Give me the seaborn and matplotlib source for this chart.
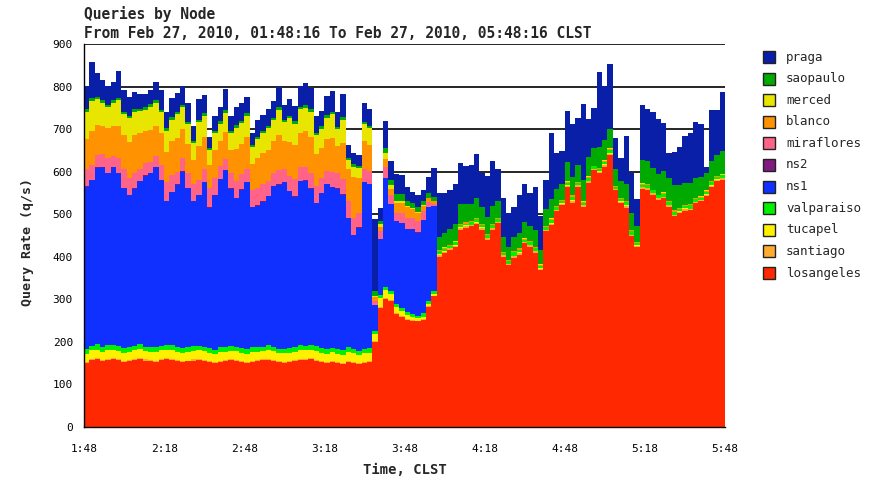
import pandas as pd
import matplotlib
matplotlib.use("Agg")
import matplotlib.pyplot as plt
import seaborn as sns
from matplotlib.patches import Rectangle

# stacking order: first name ends up on top of the stack
nodes = ["praga", "saopaulo", "merced", "blanco", "miraflores", "ns2",
         "ns1", "valparaiso", "tucapel", "santiago", "losangeles"]
colors = ["#0A1FA8", "#00AA00", "#E8E600", "#FF9200", "#FF6488", "#7F1A80",
          "#1030FF", "#00F000", "#FFF000", "#FFAA30", "#FF2800"]
tick_labels = ["1:48", "2:18", "2:48", "3:18", "3:48", "4:18", "4:48", "5:18", "5:48"]

# one sample every 2 minutes from 01:48 (minute 1 = centre of first bin)
minutes = list(range(1, 240, 2))

losangeles = [
    150, 158, 160, 155, 158, 160, 157, 152, 155, 158,
    160, 156, 155, 153, 158, 160, 157, 155, 152, 154,
    156, 158, 155, 153, 150, 152, 155, 157, 155, 153,
    150, 152, 155, 157, 158, 155, 152, 150, 153, 155,
    157, 158, 160, 156, 152, 150, 153, 150, 148, 152,
    150, 148, 150, 152, 200, 280, 300, 295, 265, 258,
    252, 249, 248, 252, 283, 307, 400, 409, 416, 424,
    464, 468, 472, 478, 464, 440, 464, 480, 400, 380,
    398, 405, 432, 424, 409, 369, 460, 475, 507, 522,
    565, 526, 565, 518, 573, 604, 596, 612, 639, 557,
    526, 515, 448, 424, 560, 557, 546, 534, 538, 518,
    495, 503, 507, 510, 526, 530, 542, 565, 577, 581]
santiago = [
    2, 2, 3, 2, 2, 2, 3, 2, 2, 2,
    2, 3, 2, 2, 2, 2, 3, 2, 2, 2,
    3, 2, 2, 2, 2, 3, 2, 2, 2, 2,
    2, 3, 2, 2, 2, 3, 2, 2, 2, 2,
    2, 2, 3, 2, 2, 2, 2, 3, 2, 2,
    3, 2, 2, 2, 3, 3, 3, 3, 3, 3,
    2, 2, 2, 2, 2, 2, 5, 3, 4, 2,
    3, 5, 3, 2, 4, 3, 3, 2, 4, 3,
    3, 5, 2, 3, 4, 3, 2, 3, 4, 3,
    2, 5, 3, 3, 4, 2, 3, 4, 3, 2,
    3, 5, 3, 2, 3, 4, 3, 3, 2, 4,
    3, 3, 5, 2, 3, 3, 4, 2, 3, 3]
tucapel = [
    20, 21, 19, 20, 22, 20, 19, 21, 20, 20,
    21, 19, 20, 22, 20, 19, 21, 20, 20, 21,
    19, 20, 22, 20, 19, 21, 20, 20, 21, 19,
    20, 22, 20, 19, 21, 20, 20, 21, 19, 20,
    22, 20, 19, 21, 20, 20, 21, 19, 20, 22,
    20, 19, 21, 20, 15, 20, 18, 15, 15, 12,
    10, 8, 6, 5, 3, 3, 1, 1, 0, 1,
    2, 1, 0, 1, 1, 2, 1, 0, 1, 1,
    2, 1, 0, 1, 1, 1, 2, 1, 0, 1,
    1, 2, 1, 0, 1, 1, 2, 1, 1, 0,
    1, 2, 1, 1, 0, 1, 1, 2, 1, 0,
    1, 1, 2, 1, 0, 1, 1, 1, 2, 1]
valparaiso = [
    11, 10, 12, 11, 10, 11, 12, 11, 10, 11,
    12, 11, 11, 10, 11, 12, 11, 10, 11, 11,
    12, 11, 10, 11, 11, 12, 10, 11, 11, 12,
    11, 10, 11, 11, 12, 11, 10, 11, 11, 12,
    11, 10, 11, 12, 11, 11, 10, 11, 12, 11,
    11, 10, 11, 12, 8, 8, 8, 6, 6, 6,
    6, 6, 6, 8, 8, 8, 8, 6, 5, 7,
    6, 4, 6, 8, 5, 6, 7, 6, 5, 6,
    8, 5, 6, 7, 6, 5, 6, 7, 5, 6,
    6, 8, 5, 6, 7, 6, 5, 6, 7, 5,
    6, 6, 8, 5, 6, 7, 6, 5, 6, 6,
    7, 5, 6, 8, 6, 5, 6, 7, 6, 6]
ns1 = [
    382, 389, 415, 423, 405, 418, 406, 375, 357, 369,
    382, 401, 408, 425, 389, 337, 360, 382, 415, 373,
    341, 354, 387, 329, 362, 395, 416, 370, 349, 372,
    392, 330, 332, 340, 349, 377, 385, 392, 369, 352,
    385, 389, 367, 336, 365, 387, 379, 377, 364, 305,
    267, 289, 392, 385, 60, 130, 255, 205, 195, 200,
    195, 200, 195, 220, 220, 200, 0, 0, 0, 0] + [0] * 50
ns2 = [
    1, 0, 1, 1, 0, 1, 1, 0, 1, 1,
    0, 1, 1, 0, 1, 1, 0, 1, 1, 0,
    1, 1, 0, 1, 1, 0, 1, 1, 0, 1,
    1, 0, 1, 1, 0, 1, 1, 0, 1, 1,
    0, 1, 1, 0, 1, 1, 0, 1, 1, 0,
    1, 1, 0, 1, 1, 0, 1, 1, 0, 1,
    1, 0, 1, 0, 1, 0, 0, 0, 0, 0] + [0] * 50
miraflores = [
    40, 35, 30, 30, 35, 25, 35, 45, 40, 35,
    30, 30, 25, 25, 35, 45, 40, 30, 30, 35,
    40, 35, 30, 45, 40, 30, 25, 35, 40, 35,
    30, 40, 40, 40, 35, 30, 35, 30, 35, 40,
    35, 30, 35, 40, 35, 30, 35, 35, 35, 40,
    40, 35, 30, 30, 10, 20, 25, 20, 19, 22,
    25, 25, 25, 20, 12, 5, 0, 0, 0, 0] + [0] * 50
blanco = [
    70, 80, 70, 65, 70, 70, 75, 80, 85, 90,
    85, 75, 75, 70, 75, 70, 80, 80, 70, 70,
    55, 80, 75, 55, 65, 60, 65, 55, 75, 70,
    75, 60, 70, 75, 75, 75, 80, 65, 80, 80,
    80, 85, 85, 75, 70, 75, 80, 65, 85, 75,
    95, 80, 65, 60, 8, 10, 20, 15, 24, 25,
    25, 22, 20, 12, 8, 5, 3, 2, 3, 1,
    2, 4, 2, 1, 3, 2, 2, 3, 1, 2,
    2, 4, 2, 1, 2, 3, 2, 2, 3, 1,
    2, 4, 2, 2, 3, 1, 2, 2, 4, 2,
    1, 3, 2, 2, 3, 2, 1, 2, 3, 2,
    4, 2, 1, 2, 3, 2, 2, 3, 2, 2]
merced = [
    65, 70, 60, 55, 50, 55, 60, 50, 55, 55,
    50, 50, 55, 55, 50, 50, 50, 55, 50, 45,
    40, 55, 50, 35, 40, 40, 45, 40, 50, 50,
    50, 40, 45, 45, 50, 50, 60, 45, 55, 50,
    55, 55, 60, 45, 45, 50, 55, 40, 55, 20,
    25, 25, 40, 40, 4, 5, 15, 8, 5, 5,
    3, 3, 3, 2, 2, 2, 0, 1, 0, 1,
    1, 0, 1, 2, 1, 0, 1, 1, 0, 1,
    1, 0, 1, 1, 0, 1, 1, 2, 1, 0,
    1, 1, 0, 1, 1, 0, 1, 2, 1, 1,
    0, 1, 1, 0, 1, 1, 1, 0, 2, 1,
    1, 0, 1, 1, 0, 1, 1, 1, 0, 1]
saopaulo = [
    6, 8, 6, 6, 5, 6, 6, 5, 6, 6,
    5, 6, 6, 6, 5, 6, 6, 6, 5, 6,
    5, 6, 6, 5, 6, 6, 6, 5, 6, 6,
    6, 5, 6, 6, 6, 5, 6, 6, 6, 6,
    6, 6, 6, 5, 6, 6, 6, 5, 6, 5,
    5, 5, 6, 6, 10, 8, 10, 12, 15, 15,
    12, 12, 12, 10, 10, 8, 30, 35, 38, 40,
    45, 42, 40, 45, 38, 40, 42, 38, 35, 30,
    32, 35, 38, 35, 40, 35, 40, 45, 40, 38,
    45, 42, 40, 50, 45, 42, 50, 48, 45, 40,
    42, 38, 40, 38, 55, 52, 50, 48, 50, 55,
    58, 55, 52, 50, 48, 45, 40, 45, 50, 55]
praga = [
    54, 85, 56, 48, 44, 43, 62, 50, 44, 41,
    35, 31, 33, 43, 45, 39, 44, 44, 45, 44,
    35, 49, 44, 25, 34, 34, 50, 35, 42, 41,
    39, 30, 39, 37, 39, 40, 49, 34, 39, 37,
    49, 52, 49, 39, 35, 45, 49, 35, 54, 30,
    28, 25, 44, 39, 170, 30, 65, 45, 48, 45,
    34, 25, 28, 25, 39, 68, 103, 93, 90, 96,
    98, 89, 91, 104, 81, 97, 105, 77, 92, 80,
    71, 89, 90, 78, 103, 78, 68, 157, 83, 78,
    121, 124, 111, 179, 90, 94, 175, 127, 152, 73,
    54, 114, 93, 63, 129, 123, 132, 130, 112, 57,
    77, 88, 110, 117, 130, 125, 15, 122, 105, 139]

df = pd.DataFrame({"minute": minutes, "praga": praga, "saopaulo": saopaulo,
                   "merced": merced, "blanco": blanco, "miraflores": miraflores,
                   "ns2": ns2, "ns1": ns1, "valparaiso": valparaiso,
                   "tucapel": tucapel, "santiago": santiago, "losangeles": losangeles})
long_df = df.melt(id_vars="minute", var_name="node", value_name="rate")

sns.set_style("white")
plt.rcParams["font.family"] = ["DejaVu Sans Mono"]

W, H = 873, 479
fig = plt.figure(figsize=(W / 100, H / 100), dpi=100)
ax = fig.add_axes([84 / W, (H - 427) / H, (725 - 84) / W, (427 - 44) / H])

sns.histplot(data=long_df, x="minute", weights="rate", hue="node", hue_order=nodes,
             palette=colors, multiple="stack", element="step", bins=120,
             binrange=(0, 240), alpha=1, linewidth=0, legend=False, ax=ax)

ax.set_xlim(0, 240)
ax.set_ylim(0, 900)
ax.set_yticks(range(0, 901, 100))
ax.set_xticks(range(0, 241, 30))
ax.set_xticklabels(tick_labels)
ax.set_xlabel("")
ax.set_ylabel("")
ax.yaxis.grid(True, color="black", lw=1.2)
ax.xaxis.grid(False)
ax.set_axisbelow(True)
ax.tick_params(axis="both", direction="out", length=5, width=1, color="black",
               labelsize=8, labelcolor="black")
ax.tick_params(axis="x", pad=7)
ax.tick_params(axis="y", pad=3)
for s in ["top", "right"]:
    ax.spines[s].set_visible(False)
for s in ["left", "bottom"]:
    ax.spines[s].set_color("black")
    ax.spines[s].set_linewidth(1)

# titles and axis labels
fig.text(84 / W, 1 - 14 / H, "Queries by Node", fontsize=10.5, fontweight="bold", va="center")
fig.text(84 / W, 1 - 34 / H, "From Feb 27, 2010, 01:48:16 To Feb 27, 2010, 05:48:16 CLST",
         fontsize=10.5, fontweight="bold", va="center")
fig.text(405 / W, 1 - 470 / H, "Time, CLST", fontsize=10, fontweight="bold",
         ha="center", va="center")
fig.text(27 / W, 1 - 242 / H, "Query Rate (q/s)", fontsize=9.5, fontweight="bold",
         ha="center", va="center", rotation=90)

# legend on the right
for i, (name, col) in enumerate(zip(nodes, colors)):
    yc = 57 + 21.6 * i
    fig.patches.append(Rectangle((763 / W, 1 - (yc + 6) / H), 12 / W, 12 / H,
                                 transform=fig.transFigure, facecolor=col,
                                 edgecolor="#222222", lw=1))
    fig.text(786 / W, 1 - yc / H, name, fontsize=9, va="center")

fig.savefig("out.png", dpi=100)
